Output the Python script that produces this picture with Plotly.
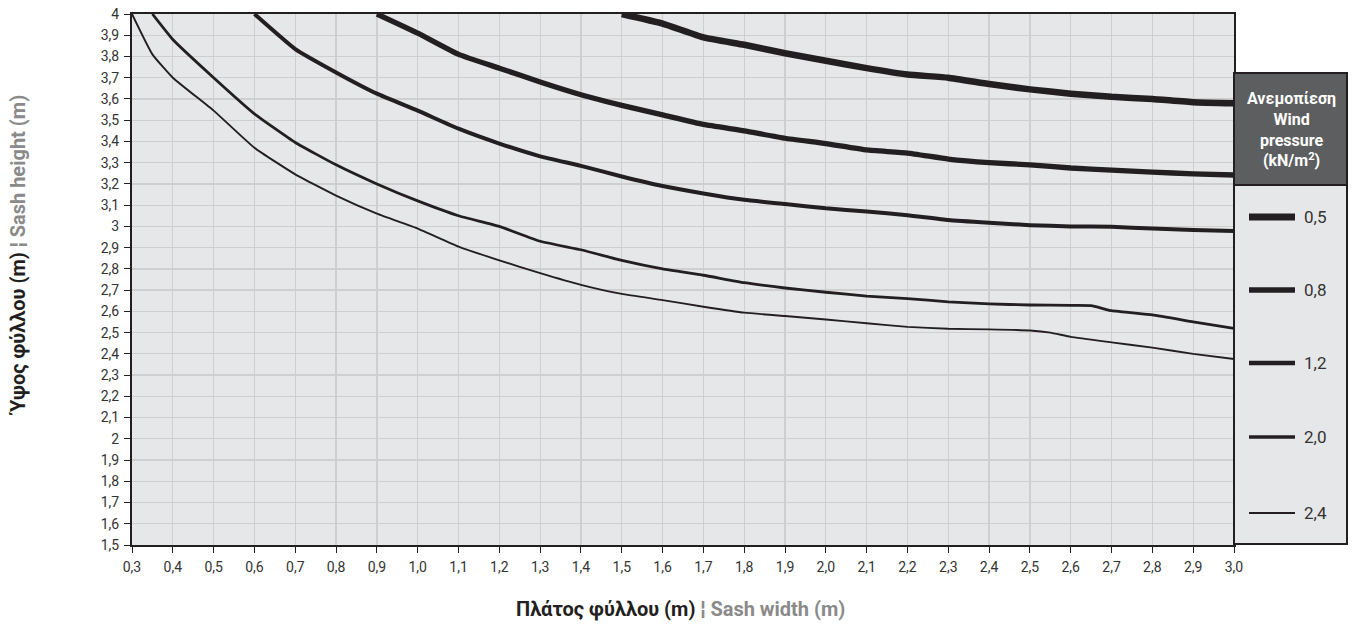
import plotly.graph_objects as go

# ---------------- data ----------------
pressures = ["0,5", "0,8", "1,2", "2,0", "2,4"]

x05 = [1.5, 1.6, 1.7, 1.8, 1.9, 2.0, 2.1, 2.2, 2.3, 2.4, 2.5, 2.6, 2.7, 2.8, 2.9, 3.0]
y05 = [4.0, 3.955, 3.89, 3.855, 3.815, 3.78, 3.745, 3.715, 3.70, 3.67, 3.645, 3.625, 3.61, 3.60, 3.585, 3.58]

x08 = [0.9, 1.0, 1.1, 1.2, 1.3, 1.4, 1.5, 1.6, 1.7, 1.8, 1.9, 2.0, 2.1, 2.2, 2.3, 2.4, 2.5, 2.6, 2.7, 2.8, 2.9, 3.0]
y08 = [4.0, 3.91, 3.81, 3.745, 3.68, 3.62, 3.57, 3.525, 3.48, 3.45, 3.415, 3.39, 3.36, 3.345, 3.317, 3.30, 3.29, 3.275, 3.265, 3.256, 3.247, 3.242]

x12 = [0.6, 0.7, 0.8, 0.9, 1.0, 1.1, 1.2, 1.3, 1.4, 1.5, 1.6, 1.7, 1.8, 1.9, 2.0, 2.1, 2.2, 2.3, 2.4, 2.5, 2.6, 2.7, 2.8, 2.9, 3.0]
y12 = [4.0, 3.835, 3.725, 3.625, 3.545, 3.46, 3.39, 3.33, 3.285, 3.235, 3.19, 3.155, 3.125, 3.105, 3.085, 3.07, 3.053, 3.03, 3.017, 3.006, 3.0, 2.998, 2.99, 2.983, 2.978]

x20 = [0.35, 0.4, 0.5, 0.6, 0.7, 0.8, 0.9, 1.0, 1.1, 1.2, 1.3, 1.4, 1.5, 1.6, 1.7, 1.8, 1.9, 2.0, 2.1, 2.2, 2.3, 2.4, 2.5, 2.6, 2.65, 2.7, 2.8, 2.9, 3.0]
y20 = [4.0, 3.88, 3.70, 3.53, 3.395, 3.29, 3.20, 3.12, 3.05, 3.0, 2.93, 2.89, 2.84, 2.80, 2.77, 2.735, 2.71, 2.69, 2.672, 2.66, 2.645, 2.635, 2.63, 2.628, 2.627, 2.603, 2.583, 2.551, 2.52]

x24 = [0.3, 0.35, 0.4, 0.5, 0.6, 0.7, 0.8, 0.9, 1.0, 1.1, 1.2, 1.3, 1.4, 1.5, 1.6, 1.7, 1.8, 1.9, 2.0, 2.1, 2.2, 2.3, 2.4, 2.5, 2.55, 2.6, 2.7, 2.8, 2.9, 3.0]
y24 = [4.0, 3.81, 3.70, 3.545, 3.37, 3.245, 3.145, 3.06, 2.99, 2.905, 2.84, 2.78, 2.725, 2.682, 2.653, 2.622, 2.594, 2.578, 2.562, 2.544, 2.527, 2.518, 2.515, 2.51, 2.50, 2.48, 2.454, 2.429, 2.40, 2.376]

x_tickvals = [0.3, 0.4, 0.5, 0.6, 0.7, 0.8, 0.9, 1.0, 1.1, 1.2, 1.3, 1.4, 1.5, 1.6, 1.7, 1.8, 1.9, 2.0,
              2.1, 2.2, 2.3, 2.4, 2.5, 2.6, 2.7, 2.8, 2.9, 3.0]
x_ticktext = ["0,3", "0,4", "0,5", "0,6", "0,7", "0,8", "0,9", "1,0", "1,1", "1,2", "1,3", "1,4", "1,5",
              "1,6", "1,7", "1,8", "1,9", "2,0", "2,1", "2,2", "2,3", "2,4", "2,5", "2,6", "2,7", "2,8",
              "2,9", "3,0"]
y_tickvals = [1.5, 1.6, 1.7, 1.8, 1.9, 2.0, 2.1, 2.2, 2.3, 2.4, 2.5, 2.6, 2.7, 2.8, 2.9, 3.0,
              3.1, 3.2, 3.3, 3.4, 3.5, 3.6, 3.7, 3.8, 3.9, 4.0]
y_ticktext = ["1,5", "1,6", "1,7", "1,8", "1,9", "2", "2,1", "2,2", "2,3", "2,4", "2,5", "2,6", "2,7",
              "2,8", "2,9", "3", "3,1", "3,2", "3,3", "3,4", "3,5", "3,6", "3,7", "3,8", "3,9", "4"]

x_title_main = "Πλάτος φύλλου (m)"
x_title_en = "Sash width (m)"
y_title_main = "Ύψος φύλλου (m)"
y_title_en = "Sash height (m)"
legend_title = ["Ανεμοπίεση", "Wind", "pressure", "(kN/m<sup>2</sup>)"]

series_x = [x05, x08, x12, x20, x24]
series_y = [y05, y08, y12, y20, y24]

# ---------------- styling ----------------
FONT = "Roboto, 'Liberation Sans', sans-serif"
INK = "#231f20"
GREY_TXT = "#8a8a8a"
TICK_TXT = "#333333"
widths = [6.5, 5.3, 4.0, 2.8, 1.9]
legend_widths = [7, 5.5, 4.5, 3.3, 2.0]

fig = go.Figure()
for xs, ys, w, name in zip(series_x, series_y, widths, pressures):
    fig.add_trace(go.Scatter(
        x=xs, y=ys, mode="lines", name=name,
        line=dict(color=INK, width=w, shape="spline", smoothing=0.4),
        showlegend=False, hoverinfo="skip",
    ))

# plot geometry (px) for paper-coord conversion
L, R, T, B = 132, 1234, 14, 545
def px(xp):
    return (xp - L) / (R - L)
def py(yp):
    return (B - yp) / (B - T)

shapes = []
annotations = []
# legend body
shapes.append(dict(type="rect", xref="paper", yref="paper",
                   x0=px(1234), x1=px(1347), y0=py(544), y1=py(185),
                   fillcolor="#e6e7e8", line=dict(color=INK, width=2), layer="above"))
# legend header
shapes.append(dict(type="rect", xref="paper", yref="paper",
                   x0=px(1234), x1=px(1347), y0=py(185), y1=py(73),
                   fillcolor="#5d5e60", line=dict(color=INK, width=2), layer="above"))
annotations.append(dict(
    xref="paper", yref="paper", x=px(1291), y=py(130), xanchor="center", yanchor="middle",
    text="<b>" + "<br>".join(legend_title) + "</b>",
    showarrow=False, font=dict(family=FONT, size=16, color="white"), align="center"))

legend_rows = [217, 290, 363, 437, 513]
for name, w, yrow in zip(pressures, legend_widths, legend_rows):
    shapes.append(dict(type="line", xref="paper", yref="paper",
                       x0=px(1249), x1=px(1295), y0=py(yrow), y1=py(yrow),
                       line=dict(color=INK, width=w), layer="above"))
    annotations.append(dict(xref="paper", yref="paper", x=px(1302), y=py(yrow),
                            xanchor="left", yanchor="middle", text=name, showarrow=False,
                            font=dict(family=FONT, size=17, color=TICK_TXT)))

# axis titles
annotations.append(dict(
    xref="paper", yref="paper", x=px(680), y=py(609), xanchor="center", yanchor="middle",
    text="<b>" + x_title_main + "</b><span style='color:" + GREY_TXT + "'><b> ¦ " + x_title_en + "</b></span>",
    showarrow=False, font=dict(family=FONT, size=20, color=INK)))
annotations.append(dict(
    xref="paper", yref="paper", x=px(18), y=py(256), xanchor="center", yanchor="middle",
    textangle=-90,
    text="<b>" + y_title_main + "</b><span style='color:" + GREY_TXT + "'><b> ¦ " + y_title_en + "</b></span>",
    showarrow=False, font=dict(family=FONT, size=20, color=INK)))

fig.update_layout(
    width=1360, height=629,
    margin=dict(l=L, r=1360 - R, t=T, b=629 - B, autoexpand=False),
    paper_bgcolor="white", plot_bgcolor="#e6e7e8",
    font=dict(family=FONT, size=14, color=TICK_TXT),
    shapes=shapes, annotations=annotations,
    showlegend=False, hovermode=False,
)
fig.update_xaxes(
    range=[0.3, 3.0], tickvals=x_tickvals, ticktext=x_ticktext, automargin=False,
    showgrid=True, gridcolor="#cfcfcf", gridwidth=1.3,
    showline=True, linecolor=INK, linewidth=1.6, mirror=True,
    ticks="outside", ticklen=6, tickcolor=INK, tickwidth=1,
    ticklabelstandoff=3, zeroline=False,
    tickfont=dict(family=FONT, size=14, color=TICK_TXT),
)
fig.update_yaxes(
    range=[1.5, 4.0], tickvals=y_tickvals, ticktext=y_ticktext, automargin=False,
    showgrid=True, gridcolor="#cfcfcf", gridwidth=1.3,
    showline=True, linecolor=INK, linewidth=2, mirror=True,
    ticks="outside", ticklen=6, tickcolor=INK, tickwidth=1,
    ticklabelstandoff=2, zeroline=False,
    tickfont=dict(family=FONT, size=14, color=TICK_TXT),
)

fig.write_html("out.html", config={"displayModeBar": False, "staticPlot": True},
               post_script="document.body.style.margin='0';")
